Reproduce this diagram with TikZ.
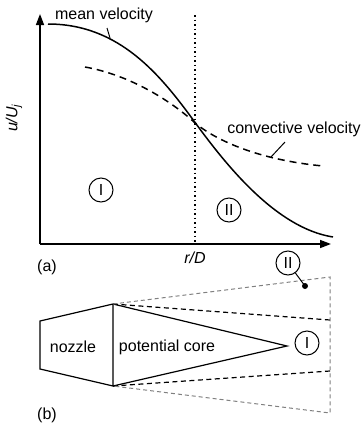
\documentclass[tikz,border=0pt]{standalone}
\usepackage{fontspec}
\setmainfont{Liberation Sans}
\usetikzlibrary{arrows.meta}
\begin{document}
\begin{tikzpicture}[x=1pt,y=-1pt,
  lbl/.style={font=\fontsize{16}{19}\selectfont, inner sep=0pt},
  roman/.style={circle, draw, line width=1pt, minimum size=24pt, inner sep=0pt, font=\fontsize{16}{19}\selectfont},
  axis/.style={line width=1.5pt, -{Triangle[length=11pt,width=8pt]}},
  curve/.style={line width=1.5pt},
  dcurve/.style={line width=1.5pt, dash pattern=on 7pt off 5pt},
  leader/.style={line width=1pt},
  solidline/.style={line width=1.2pt},
  blkdash/.style={line width=1.2pt, dash pattern=on 5pt off 3.5pt},
  graydash/.style={line width=1pt, gray, dash pattern=on 4pt off 3pt}]
\useasboundingbox (0,0) rectangle (362,429);
% axes
\coordinate (O) at (40,244);
\coordinate (ytop) at (40,14);
\coordinate (xend) at (331,244);
\draw[axis] (O) -- (ytop);
\draw[axis] (O) -- (xend);
% dotted vertical
\coordinate (vt) at (195,15);
\coordinate (vb) at (195,244);
\draw[line width=1.5pt, dash pattern=on 1.5pt off 3pt] (vt) -- (vb);
% mean velocity curve
\coordinate (m0) at (48,24);
\coordinate (mc) at (194,121);
\coordinate (m1) at (333,237);
\draw[curve] (m0) .. controls (120,24) and (161,76) .. (mc) .. controls (226,165) and (276,228) .. (m1);
% convective velocity curve
\coordinate (c0) at (85,67);
\coordinate (cc) at (194,122);
\coordinate (c1) at (323,166);
\draw[dcurve] (c0) .. controls (130,75) and (171,101) .. (cc) .. controls (216,141) and (260,160) .. (c1);
% labels
\node[lbl] (mv) at (104,15) {mean velocity};
\coordinate (mv1) at (107,28);
\coordinate (mv2) at (110,38);
\draw[leader] (mv1) -- (mv2);
\node[lbl] (cv) at (294,129) {convective velocity};
\coordinate (cv1) at (285,142);
\coordinate (cv2) at (271,157);
\draw[leader] (cv1) -- (cv2);
\node[lbl, rotate=90] (ylab) at (14,118) {\itshape u/U\textsubscript{j}};
\node[lbl] (xlab) at (195,258) {\itshape r/D};
\node[lbl] (a) at (47,267) {(a)};
\node[roman] (I1) at (101,190) {I};
\node[roman] (II1) at (229,210) {II};
% part (b)
\coordinate (n1) at (40,321);
\coordinate (n2) at (113,304);
\coordinate (n3) at (113,386);
\coordinate (n4) at (40,369);
\coordinate (tip) at (287,346);
\draw[solidline] (n1) -- (n2) -- (n3) -- (n4) -- cycle;
\draw[solidline] (n2) -- (tip) -- (n3);
\coordinate (bd1) at (330,320);
\coordinate (bd2) at (330,371);
\draw[blkdash] (n2) -- (bd1);
\draw[blkdash] (n3) -- (bd2);
\coordinate (gd1) at (330,277);
\coordinate (gd2) at (330,413);
\draw[graydash] (n2) -- (gd1) -- (gd2) -- (n3);
\node[lbl] (noz) at (73,347) {nozzle};
\node[lbl] (pc) at (167,347) {potential core};
\node[roman] (I2) at (307,343) {I};
\node[roman] (II2) at (288,263) {II};
\coordinate (dot) at (305,286);
\fill (dot) circle (3pt);
\draw[leader] (II2) -- (dot);
\node[lbl] (b) at (47,415) {(b)};
\end{tikzpicture}
\end{document}
